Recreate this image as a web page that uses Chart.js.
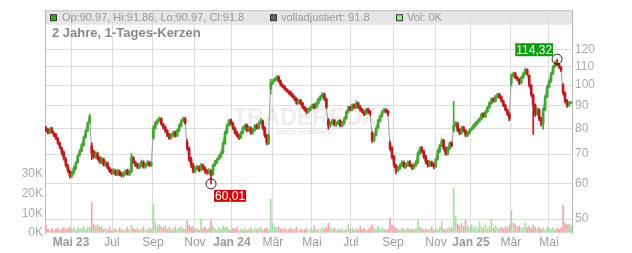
<!DOCTYPE html>
<html><head><meta charset="utf-8">
<script src="https://cdn.jsdelivr.net/npm/chart.js@4.4.1/dist/chart.umd.min.js"></script>
<style>html,body{margin:0;padding:0;background:#fff}canvas{display:block}</style>
</head><body>
<canvas id="c" width="632" height="253"></canvas>
<script>
const opens=[80.2,79.3,78.0,79.8,78.0,77.4,75.8,73.9,72.0,70.6,
68.0,65.8,64.0,62.4,63.6,65.0,67.1,69.8,71.2,73.3,
76.5,79.0,82.4,73.0,70.8,69.0,70.0,68.6,67.0,68.1,
66.0,66.8,65.0,64.3,63.4,64.1,63.0,64.0,63.2,62.6,
63.2,64.3,63.0,63.9,68.5,67.0,66.2,65.2,66.0,67.2,
65.4,66.2,67.0,66.0,76.0,80.0,82.0,83.3,84.0,81.5,
80.4,79.0,77.3,76.1,77.0,78.4,77.0,79.0,81.0,83.2,
84.0,74.5,72.0,68.3,66.1,64.0,65.0,65.4,64.5,66.0,
65.1,64.0,63.5,64.0,63.0,66.1,67.0,68.3,69.0,70.5,
74.0,78.1,81.2,83.4,82.1,80.0,78.3,77.1,76.2,78.1,
80.0,81.3,79.1,80.1,78.0,79.3,81.2,80.0,82.1,83.0,
80.2,77.1,74.0,98.0,101.0,102.3,103.0,104.3,102.1,100.0,
99.2,97.8,97.0,96.4,95.1,94.0,93.2,91.0,92.3,91.1,
89.0,88.3,87.1,88.0,89.0,90.4,89.2,91.0,92.8,94.0,
95.4,93.0,83.5,81.0,82.0,83.3,81.4,82.0,83.2,81.0,
82.1,84.2,87.0,89.2,88.0,90.3,89.0,91.1,89.4,88.2,
87.0,86.1,88.3,87.2,78.0,75.0,77.2,80.1,83.0,85.2,
87.1,88.0,87.4,74.0,72.2,69.1,66.0,64.2,65.0,66.1,
67.0,65.5,66.0,67.2,66.0,65.1,66.0,67.0,70.1,72.3,
71.0,69.1,67.3,66.0,67.0,66.4,65.7,68.2,71.0,73.2,
75.0,72.2,70.0,72.1,74.2,79.0,81.1,82.0,79.3,78.0,
80.3,79.0,77.1,78.0,79.4,80.1,81.0,82.1,83.0,84.0,
86.2,85.0,87.2,89.1,91.0,93.2,92.0,94.0,95.3,94.1,
92.0,90.1,88.0,86.2,101.0,105.0,106.3,104.1,103.0,101.2,
104.0,106.0,108.2,105.0,99.8,95.0,90.2,86.1,88.0,84.2,
82.1,88.0,94.2,99.1,102.0,106.2,110.1,112.0,111.4,109.6,
100.0,96.0,92.3,90.0,90.97];
const highs=[80.8,79.9,80.3,80.5,78.6,77.9,76.3,74.5,72.6,71.1,
68.7,66.4,64.5,64.0,65.8,67.3,69.9,71.7,74.0,76.8,
79.4,82.7,86.0,74.1,71.5,70.9,70.6,69.1,69.0,68.6,
67.6,67.2,65.5,64.8,64.9,64.6,64.7,64.5,63.7,63.9,
64.6,64.8,64.2,70.2,69.2,67.5,66.8,66.8,67.9,67.6,
66.6,67.7,67.5,67.2,81.0,83.0,83.8,84.9,84.5,82.1,
81.0,79.5,77.9,77.9,78.8,78.9,79.7,81.8,83.7,84.8,
84.6,75.4,72.6,68.9,66.7,65.7,66.0,65.9,66.7,66.5,
65.6,64.6,64.9,64.6,66.5,67.8,68.6,69.8,70.9,74.7,
78.8,81.7,83.8,84.0,82.6,80.6,78.9,77.6,78.6,80.8,
81.7,81.8,80.9,80.6,79.8,81.6,81.8,82.8,84.3,83.6,
80.7,77.6,77.7,103.0,103.0,104.0,105.0,104.9,102.7,100.7,
99.8,98.5,97.6,97.0,95.8,94.6,93.7,92.9,92.9,91.6,
89.6,88.9,88.8,89.7,90.8,90.9,91.7,93.6,94.8,96.3,
95.9,93.5,84.2,82.8,83.9,83.8,82.7,83.6,83.7,82.8,
84.6,87.7,89.6,89.7,90.8,90.8,92.2,91.6,89.9,88.7,
87.6,88.7,88.8,87.8,78.6,77.7,80.6,83.8,85.7,87.6,
88.7,88.6,87.9,74.8,72.8,69.6,66.5,65.7,66.6,67.7,
67.5,66.8,67.6,67.7,66.5,66.6,67.7,70.8,72.7,72.9,
71.5,69.6,67.8,67.7,67.5,66.9,68.6,71.7,73.6,75.8,
75.5,72.7,72.8,74.6,74.7,92.0,82.9,82.6,79.9,80.8,
80.9,79.5,78.7,79.8,80.6,81.7,82.8,83.6,84.7,86.6,
86.8,87.7,89.6,91.8,93.6,93.8,94.8,96.0,95.8,94.6,
92.5,90.6,88.5,86.7,106.0,107.0,106.9,104.8,103.6,104.8,
107.0,109.2,108.8,105.6,100.4,95.6,90.8,88.9,88.6,84.8,
88.9,94.8,99.7,102.9,106.8,110.8,113.2,114.32,112.1,110.3,
100.8,96.6,92.9,91.7,91.86];
const lows=[78.6,77.6,77.8,78.0,76.5,75.4,73.6,71.9,69.6,67.8,
65.5,63.6,61.8,62.0,63.1,64.6,66.7,69.2,70.8,72.9,
76.0,78.6,82.0,68.0,68.4,68.5,67.8,66.7,66.6,65.8,
65.6,64.7,63.6,63.0,63.0,62.6,62.6,62.5,62.1,62.2,
62.8,62.8,62.6,63.6,66.6,65.6,64.9,64.8,65.6,65.1,
65.0,65.8,65.7,65.6,75.5,79.5,81.5,82.7,81.2,79.6,
78.3,76.6,75.4,75.7,76.5,76.4,76.6,78.6,80.5,82.7,
81.7,71.5,67.4,65.3,63.5,63.6,64.5,63.9,64.1,64.5,
63.3,63.0,63.1,60.01,62.7,65.7,66.6,67.8,68.6,70.1,
73.6,77.6,80.7,81.4,79.5,77.6,76.4,75.4,75.8,77.7,
79.5,78.5,78.6,77.5,77.6,78.8,79.6,79.6,81.7,79.5,
76.3,73.4,73.6,95.5,100.2,101.6,102.4,101.4,99.5,98.5,
97.4,96.5,95.4,94.4,93.6,92.3,90.5,90.6,90.4,88.6,
87.4,86.2,86.6,87.5,88.5,88.4,88.8,90.5,92.3,93.5,
92.5,88.5,79.5,80.4,81.5,80.9,80.8,81.5,80.6,80.5,
81.6,83.8,86.5,87.5,87.6,88.5,88.6,88.6,87.4,86.5,
85.4,85.7,86.4,85.5,74.3,74.6,76.8,79.6,82.5,84.7,
86.6,86.6,85.3,71.3,68.3,65.4,63.2,63.8,64.6,65.6,
65.1,65.0,65.6,65.6,64.6,64.7,65.6,66.6,69.6,70.5,
68.4,66.6,65.4,65.6,65.6,64.8,65.3,67.8,70.5,72.7,
71.4,69.5,69.6,71.6,72.5,78.4,80.6,78.5,77.3,77.6,
78.5,76.5,76.6,77.5,78.9,79.6,80.5,81.6,82.5,83.5,
84.6,84.5,86.7,88.6,90.5,91.5,91.5,93.5,93.4,91.5,
89.4,87.5,85.4,83.2,99.5,104.2,103.2,102.3,100.2,100.6,
103.4,105.4,105.2,99.0,94.3,77.5,85.0,85.5,83.2,81.0,
79.6,87.5,93.6,98.5,101.4,105.6,109.5,110.5,109.0,107.2,
95.0,91.2,89.1,89.6,90.97];
const closes=[79.5,78.2,79.6,78.4,77.1,76.0,74.2,72.5,70.3,68.4,
66.1,64.3,62.6,63.4,65.2,66.8,69.4,71.0,73.5,76.2,
78.8,82.1,85.3,70.4,69.1,70.2,68.3,67.2,68.4,66.3,
67.1,65.2,64.1,63.6,64.3,63.1,64.2,63.0,62.7,63.3,
64.1,63.2,63.7,68.9,67.2,66.1,65.4,66.2,67.3,65.6,
66.0,67.1,66.2,66.6,80.1,82.3,83.1,84.2,81.8,80.2,
78.9,77.1,76.0,77.3,78.2,76.9,79.1,81.2,83.0,84.1,
82.2,72.3,68.1,66.0,64.2,65.1,65.3,64.4,66.1,65.0,
63.9,63.6,64.2,62.8,66.0,67.2,68.1,69.2,70.3,74.1,
78.2,81.0,83.1,82.0,80.1,78.2,77.0,76.1,78.0,80.2,
81.1,79.0,80.3,78.1,79.2,81.0,80.1,82.2,83.3,80.1,
77.0,74.2,77.1,101.2,102.1,103.2,104.1,102.0,100.2,99.1,
98.0,97.2,96.1,95.0,94.2,93.0,91.1,92.2,91.0,89.2,
88.1,87.0,88.2,89.1,90.2,89.0,91.1,93.0,94.2,95.6,
93.1,89.2,81.0,82.1,83.2,81.5,82.1,83.0,81.1,82.2,
84.0,87.1,89.0,88.1,90.2,89.1,91.0,89.2,88.0,87.1,
86.0,88.1,87.0,86.1,75.2,77.1,80.0,83.2,85.1,87.0,
88.1,87.2,86.0,72.1,69.0,66.2,64.3,65.1,66.0,67.1,
65.6,66.2,67.0,66.1,65.2,66.0,67.1,70.2,72.0,71.1,
69.0,67.2,66.0,67.1,66.2,65.6,68.0,71.1,73.0,75.1,
72.0,70.1,72.2,74.0,73.1,81.0,82.2,79.1,78.0,80.2,
79.1,77.2,78.1,79.2,80.0,81.1,82.2,83.0,84.1,86.0,
85.2,87.1,89.0,91.2,93.0,92.1,94.2,95.1,94.0,92.1,
90.0,88.2,86.1,84.0,105.2,106.1,104.0,103.1,101.0,104.1,
106.2,108.1,106.0,100.1,95.2,90.1,86.0,88.2,84.1,82.0,
88.2,94.1,99.0,102.2,106.1,110.0,112.3,111.2,109.8,108.1,
96.2,92.1,90.0,91.1,91.8];
const volumesK=[4.0,2.1,1.5,2.4,1.2,1.8,2.6,1.4,2.0,2.9,
1.6,2.2,3.1,1.7,2.5,1.3,2.8,1.9,2.3,3.4,
1.8,2.7,3.0,15.5,4.2,3.6,4.1,2.8,3.3,1.9,
2.4,1.5,2.9,1.1,1.8,2.2,1.4,2.6,1.7,1.2,
2.0,2.8,1.5,3.9,2.3,1.6,2.5,1.3,2.1,2.9,
1.4,1.9,2.6,1.8,14.5,5.2,3.8,4.4,3.1,2.6,
3.5,2.0,2.8,1.6,2.4,3.0,1.9,2.5,3.2,2.2,
1.8,6.5,3.9,2.7,3.3,1.8,2.4,1.5,7.0,2.2,
3.0,1.7,2.6,6.5,3.4,2.1,1.6,2.8,1.9,3.5,
2.7,3.1,2.0,1.4,2.3,1.8,2.9,1.2,2.0,1.6,
2.5,1.3,1.9,2.7,1.4,2.2,1.7,2.4,3.0,1.5,
2.1,2.6,1.8,17.0,4.8,3.2,2.6,3.0,2.1,1.7,
2.4,1.3,1.9,2.5,1.6,2.0,2.8,1.4,2.2,1.5,
1.9,2.6,1.2,2.3,1.7,3.6,1.5,2.0,1.8,2.7,
2.2,3.0,5.0,2.8,1.9,2.4,1.4,2.1,1.6,2.5,
1.3,2.0,4.2,1.8,2.6,1.5,2.2,1.7,3.5,1.9,
2.4,1.4,2.0,2.7,4.0,2.2,1.8,3.3,1.6,2.5,
1.9,1.3,2.1,7.5,4.0,3.2,2.5,2.0,1.5,2.3,
1.8,1.2,2.6,1.7,2.0,1.4,2.2,6.5,3.0,2.4,
1.6,2.1,1.5,1.9,2.8,1.3,2.4,1.7,3.1,6.0,
2.0,1.6,2.5,3.0,2.2,22.5,8.5,4.5,3.6,5.0,
3.2,6.5,3.8,2.6,4.1,2.9,3.4,2.2,5.5,3.0,
2.5,3.7,2.1,3.2,7.0,2.4,3.5,2.8,2.0,3.0,
2.3,3.3,2.6,3.8,11.5,5.0,4.2,3.0,3.6,2.4,
2.9,5.0,2.7,3.4,2.2,3.9,2.8,2.0,3.1,1.8,
2.5,1.6,3.0,2.2,1.9,2.6,1.5,2.3,1.8,2.7,
14.0,5.0,4.2,4.5,3.8];
const monthTickIdx=[12.6,33.2,53.8,74.9,93.5,114.1,133.7,153.3,174.5,196.1,213.7,233.8,252.9];
const monthTickLabels=["Mai 23","Jul","Sep","Nov","Jan 24","Mär","Mai","Jul","Sep","Nov","Jan 25","Mär","Mai"];
const priceTicks=[50,60,70,80,90,100,110,120];
const volumeTicksK=[0,10,20,30];
const headerOHLC="Op:90.97, Hi:91.86, Lo:90.97, Cl:91.8";
const headerAdj="volladjustiert: 91.8";
const headerVol="Vol: 0K";
const chartTitle="2 Jahre, 1-Tages-Kerzen";
const maxMark={index:257,value:114.32,text:"114,32"};
const minMark={index:83,value:60.01,text:"60,01"};

const FONT='"Liberation Sans", Arial, sans-serif';
Chart.defaults.font.family=FONT;
const GREEN='#45a532', RED='#bb1a1e', VGREEN='#a9dba2', VRED='#f2a4ac';
const N=closes.length;
const up=closes.map((c,i)=>c>=opens[i]);
const candleColors=up.map(u=>u?GREEN:RED);
const volColors=up.map(u=>u?VGREEN:VRED);

const deco={
  id:'deco',
  beforeDraw(chart){
    const {ctx,chartArea:a}=chart;
    ctx.save();
    ctx.fillStyle='#fff';ctx.fillRect(0,0,chart.width,chart.height);
    ctx.fillStyle='#e6e6e6';ctx.fillRect(a.left,a.top,a.right-a.left,14.5);
    ctx.restore();
  },
  beforeDatasetsDraw(chart){
    const {ctx}=chart;
    ctx.save();
    ctx.font='bold 23px '+FONT;
    ctx.textBaseline='alphabetic';
    ctx.fillStyle='rgba(0,0,0,0.07)';
    ctx.fillText('TRADER',233,125);
    const w=ctx.measureText('TRADER').width;
    ctx.fillStyle='rgba(220,40,40,0.10)';
    ctx.fillText('FOX',233+w+1,125);
    ctx.font='bold 6px '+FONT;
    ctx.fillStyle='rgba(0,0,0,0.12)';
    ctx.fillText('STOCK SCREENING',276,134);
    ctx.restore();
  },
  afterDatasetsDraw(chart){
    const {ctx}=chart;const xs=chart.scales.x, ys=chart.scales.y;
    ctx.save();
    ctx.font='12px '+FONT;ctx.textBaseline='middle';
    // max marker
    let cx=xs.getPixelForValue(maxMark.index), cy=ys.getPixelForValue(maxMark.value);
    ctx.beginPath();ctx.arc(cx,cy,5,0,2*Math.PI);ctx.strokeStyle='#222';ctx.lineWidth=1;ctx.stroke();
    let tw=ctx.measureText(maxMark.text).width;
    let bx=cx-4-(tw+2), by=cy-16;
    ctx.fillStyle='#109a10';ctx.fillRect(bx,by,tw+2,13);
    ctx.fillStyle='#fff';ctx.fillText(maxMark.text,bx+1,by+7);
    // min marker
    cx=xs.getPixelForValue(minMark.index); cy=ys.getPixelForValue(minMark.value);
    ctx.beginPath();ctx.arc(cx,cy,5,0,2*Math.PI);ctx.strokeStyle='#222';ctx.stroke();
    tw=ctx.measureText(minMark.text).width;
    bx=cx+3; by=cy+6;
    ctx.fillStyle='#cc0a0a';ctx.fillRect(bx,by,tw+2,12);
    ctx.fillStyle='#fff';ctx.fillText(minMark.text,bx+1,by+6.5);
    ctx.restore();
  },
  afterDraw(chart){
    const {ctx,chartArea:a}=chart;
    ctx.save();
    ctx.strokeStyle='#c4c4c4';ctx.lineWidth=1;
    ctx.beginPath();ctx.moveTo(a.left,a.top+0.5);ctx.lineTo(a.right,a.top+0.5);ctx.stroke();
    const sq=(x,fill)=>{ctx.fillStyle=fill;ctx.fillRect(x,a.top+4.5,6,6);ctx.strokeStyle='#333';ctx.strokeRect(x+0.5,a.top+4.5,6,6);};
    ctx.font='11px '+FONT;ctx.textBaseline='middle';
    sq(50,'#3f9e2c');ctx.fillStyle='#999';ctx.fillText(headerOHLC,62,a.top+8);
    sq(270,'#666');ctx.fillStyle='#999';ctx.fillText(headerAdj,281,a.top+8);
    sq(396,'#acdca4');ctx.fillStyle='#999';ctx.fillText(headerVol,407,a.top+8);
    ctx.font='bold 13px '+FONT;ctx.textBaseline='alphabetic';ctx.fillStyle='#888';
    ctx.fillText(chartTitle,52,37);
    ctx.restore();
  }
};

new Chart(document.getElementById('c'),{
  type:'bar',
  data:{datasets:[
    {type:'bar',data:closes.map((c,i)=>({x:i,y:[opens[i],c]})),backgroundColor:candleColors,barThickness:2,grouped:false,yAxisID:'y',order:0},
    {type:'bar',data:lows.map((l,i)=>({x:i,y:[l,highs[i]]})),backgroundColor:candleColors,barThickness:1,grouped:false,yAxisID:'y',order:1},
    {type:'line',data:closes.map((c,i)=>({x:i,y:c})),borderColor:'#9a9a9a',borderWidth:1,pointRadius:0,yAxisID:'y',order:2},
    {type:'bar',data:volumesK.map((v,i)=>({x:i,y:v})),backgroundColor:volColors,barThickness:1,grouped:false,yAxisID:'yv',order:3}
  ]},
  options:{
    responsive:false,animation:false,devicePixelRatio:1,
    layout:{padding:{top:8,left:0,right:0,bottom:0}},
    plugins:{legend:{display:false},tooltip:{enabled:false}},
    scales:{
      x:{type:'linear',min:-0.5,max:N-0.5,offset:false,
        afterBuildTicks:s=>{s.ticks=monthTickIdx.map(v=>({value:v}));},
        afterFit:s=>{s.height=20;},
        grid:{color:'#dcdcdc',drawTicks:false,offset:false},
        border:{display:false},
        ticks:{autoSkip:false,maxRotation:0,padding:2,color:'#9a9a9a',
          callback:(v,i)=>monthTickLabels[i],
          font:ctx=>({family:FONT,size:12,weight:/\d/.test(monthTickLabels[ctx.index]||'')?'bold':'normal'})}
      },
      y:{type:'logarithmic',position:'right',min:46.54,max:147.3,
        afterBuildTicks:s=>{s.ticks=priceTicks.map(v=>({value:v}));},
        afterFit:s=>{s.width=60;},
        grid:{color:'#dcdcdc',drawTicks:false},
        border:{display:true,color:'#b8b8b8'},
        ticks:{padding:3,color:'#aaa',font:{family:FONT,size:12},callback:v=>String(v)}
      },
      yv:{type:'linear',position:'left',min:0,max:112.5,
        afterBuildTicks:s=>{s.ticks=volumeTicksK.map(v=>({value:v}));},
        afterFit:s=>{s.width=45;},
        grid:{drawOnChartArea:false,drawTicks:false},
        border:{display:true,color:'#b8b8b8'},
        ticks:{padding:2,color:'#aaa',font:{family:FONT,size:12},callback:v=>v+'K'}
      }
    }
  },
  plugins:[deco]
});
</script>
</body></html>
